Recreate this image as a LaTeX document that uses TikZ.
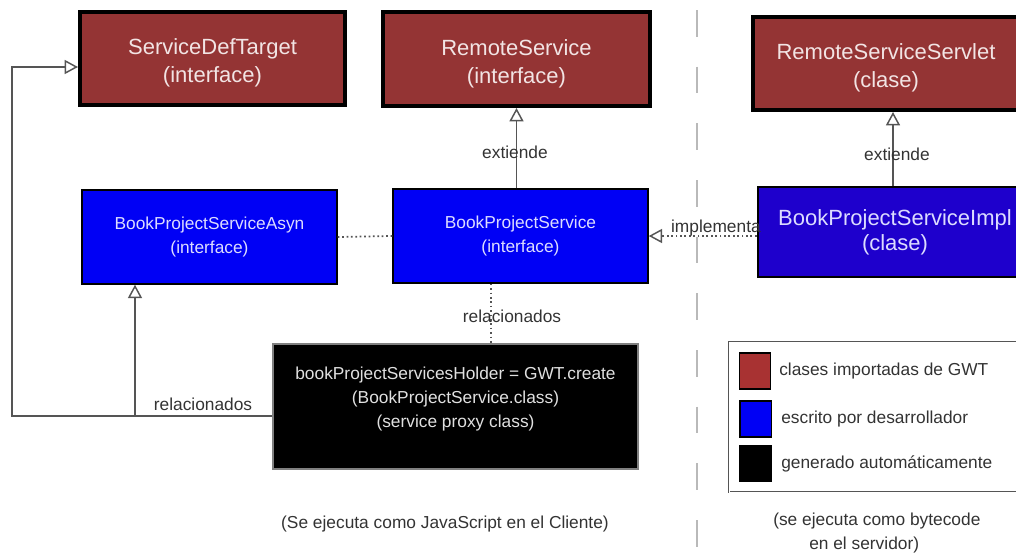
\documentclass[tikz,border=0pt]{standalone}
\usepackage{fontspec}
\setmainfont{Liberation Sans}
\usetikzlibrary{arrows.meta}
\definecolor{gwtred}{HTML}{943434}
\definecolor{legred}{HTML}{A83232}
\definecolor{devblue}{HTML}{0000F5}
\definecolor{implblue}{HTML}{1E00CC}
\definecolor{redtext}{HTML}{F2E4E4}
\definecolor{bluetext}{HTML}{DCDCFF}
\definecolor{linegray}{HTML}{555555}
\definecolor{labelgray}{HTML}{333333}
\tikzset{
  bigfont/.style={font=\fontsize{16.5}{21}\selectfont},
  smallfont/.style={font=\fontsize{13}{18}\selectfont},
  gwtbox/.style={draw=black, line width=3pt, fill=gwtred, text=redtext, bigfont, align=center},
  devbox/.style={draw=black, line width=1.1pt, fill=devblue, text=bluetext, smallfont, align=center},
  implbox/.style={draw=black, line width=2.2pt, fill=implblue, text=bluetext, bigfont, align=center},
  genbox/.style={draw=gray, line width=0.8pt, fill=black, text=white!88!black, smallfont, align=center},
  conn/.style={draw=linegray, line width=1.1pt},
  umltip/.style={-{Triangle[open, length=10pt, width=10.5pt, fill=white, line width=1.1pt]}},
  uml/.style={conn, umltip},
  dotconn/.style={draw=linegray, line width=1.3pt, dotted},
  lbl/.style={text=labelgray, smallfont},
  swatch/.style={draw=black, line width=1pt, minimum width=23.5pt, minimum height=27pt},
}
\begin{document}
\begin{tikzpicture}[x=0.75pt, y=-0.75pt]
\useasboundingbox (0,0) rectangle (1016,553);

% client / server separator
\draw[gray!55, line width=2.2pt, dash pattern=on 20pt off 22.5pt] (697,10) -- (697,553);

% GWT classes
\node[gwtbox, minimum width={265*0.75pt}, minimum height={93*0.75pt}] (sdt) at (212.5,58.5) {\rule{0pt}{19pt}ServiceDefTarget\\(interface)};
\node[gwtbox, minimum width={267*0.75pt}, minimum height={94*0.75pt}] (rs) at (516.5,59) {\rule{0pt}{19pt}RemoteService\\(interface)};
\node[gwtbox, minimum width={266*0.75pt}, minimum height={93*0.75pt}] (rss) at (886,63.5) {\rule{0pt}{18pt}RemoteServiceServlet\\(clase)};

% developer classes
\node[devbox, minimum width={255*0.75pt}, minimum height={94*0.75pt}] (asyn) at (209.5,237) {BookProjectServiceAsyn\\(interface)};
\node[devbox, minimum width={255*0.75pt}, minimum height={94*0.75pt}] (bps) at (520.5,236) {BookProjectService\\(interface)};
\node[implbox, minimum width={274*0.75pt}, minimum height={90*0.75pt}] (impl) at (895,232) {BookProjectServiceImpl\\[-2pt](clase)};

% generated proxy
\node[genbox, minimum width={365*0.75pt}, minimum height={125*0.75pt}] (holder) at (455.5,406.5) {bookProjectServicesHolder = GWT.create\\(BookProjectService.class)\\(service proxy class)\\[-4pt]};

% connectors
\coordinate (loopbl) at (12,416);
\coordinate (looptl) at (12,67);
\coordinate (jn) at (135,416);
\coordinate (ext2) at (893,0);
\coordinate (rel) at (491,0);

\path[uml] (holder.west |- loopbl) -- (loopbl) -- (looptl) -- (sdt.west |- looptl);
\path[uml] (jn) -- (asyn.south -| jn);
\path[uml] (rs.south |- bps.north) -- (rs.south);
\path[uml] (impl.north -| ext2) -- (rss.south -| ext2);
\path[dotconn] (asyn.east) -- (bps.west);
\path[dotconn, umltip] (impl.west |- bps.east) -- (bps.east);
\path[dotconn] (bps.south -| rel) -- (holder.north -| rel);

% connector labels
\node[lbl] (lrel1) at (203,404) {relacionados};
\node[lbl] (lext1) at (515,152) {extiende};
\node[lbl] (lext2) at (897,154) {extiende};
\node[lbl, anchor=east, inner sep=0pt] (limpl) at (761,228) {implementa};
\node[lbl, fill=none] (lrel2) at (512,316) {relacionados};

% legend
\node[draw=linegray, double=white, double distance=0.6pt, line width=0.6pt, minimum width={292*0.75pt}, minimum height={150*0.75pt}] (legend) at (875,417) {};
\node[swatch, fill=legred] (sw1) at (755,371) {};
\node[swatch, fill=devblue] (sw2) at (755.5,419) {};
\node[swatch, fill=black] (sw3) at (755.5,463.5) {};
\node[lbl, anchor=west, inner sep=0pt] (lg1) at (779,371) {clases importadas de GWT};
\node[lbl, anchor=west, inner sep=0pt] (lg2) at (781,419) {escrito por desarrollador};
\node[lbl, anchor=west, inner sep=0pt] (lg3) at (781,464) {generado automáticamente};

% captions
\node[lbl] (capclient) at (445,524) {(Se ejecuta como JavaScript en el Cliente)};
\node[lbl, align=left, anchor=west, inner sep=0pt] (capserver) at (773,533) {(se ejecuta como bytecode\\\hspace*{27pt}en el servidor)};
\end{tikzpicture}
\end{document}
